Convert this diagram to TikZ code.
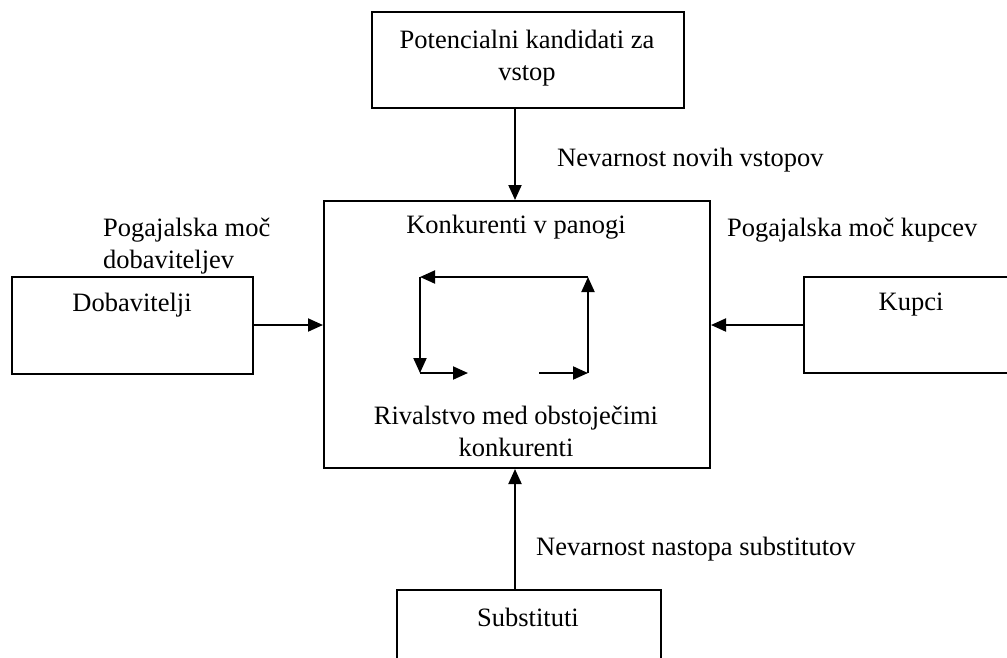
\documentclass[tikz,border=0pt]{standalone}
\usepackage{fontspec}
\setmainfont{Liberation Serif}
\usetikzlibrary{arrows.meta}
\begin{document}
\begin{tikzpicture}[x=1pt,y=-1pt,
  box/.style={draw,line width=2pt,minimum width=#1,inner sep=0pt,anchor=north west},
  txt/.style={font=\fontsize{26.5}{32}\selectfont,inner sep=0pt,align=center},
  ltxt/.style={font=\fontsize{26.5}{32}\selectfont,inner sep=0pt,align=left},
  arr/.style={line width=2pt,-{Triangle[length=15pt,width=13pt]}},
  ln/.style={line width=2pt}]
\useasboundingbox (0,0) rectangle (1007,657);
\clip (0,0) rectangle (1007,657);
% boxes
\node[box=312pt,minimum height=96pt] (top) at (371,11) {};
\node[box=386pt,minimum height=267pt] (mid) at (323,200) {};
\node[box=241pt,minimum height=97pt] (dob) at (11,276) {};
\node[box=241pt,minimum height=96pt] (kup) at (803,276) {};
\node[box=264pt,minimum height=100pt] (sub) at (396,589) {};
% texts
\node[txt] (ttop) at (527,58) {Potencialni kandidati za\\vstop};
\node[txt] (tmid1) at (516,227) {Konkurenti v panogi};
\node[txt] (tmid2) at (516,431) {Rivalstvo med obstoječimi\\konkurenti};
\node[txt] (tdob) at (132,305) {Dobavitelji};
\node[txt] (tkup) at (911,305) {Kupci};
\node[txt] (tsub) at (528,617) {Substituti};
\node[ltxt,anchor=west] (lnov) at (557,160) {Nevarnost novih vstopov};
\node[ltxt,anchor=west] (ldob) at (103,246) {Pogajalska moč\\dobaviteljev};
\node[ltxt,anchor=west] (lkup) at (727,230) {Pogajalska moč kupcev};
\node[ltxt,anchor=west] (lsub) at (536,549) {Nevarnost nastopa substitutov};
% connectors
\draw[arr] (top.south -| 515,0) -- (mid.north -| 515,0);
\draw[arr] (sub.north -| 515,0) -- (mid.south -| 515,0);
\draw[arr] (dob.east |- 0,325) -- (mid.west |- 0,325);
\draw[arr] (kup.west |- 0,325) -- (mid.east |- 0,325);
% inner cycle
\coordinate (c1) at (588,277);
\coordinate (c2) at (420,277);
\coordinate (c3) at (420,373);
\coordinate (c4) at (468,373);
\coordinate (c5) at (539,373);
\coordinate (c6) at (588,373);
\draw[arr] (c1) -- (c2);
\draw[arr] (c2) -- (c3);
\draw[arr] (c3) -- (c4);
\draw[arr] (c5) -- (c6);
\draw[arr] (c6) -- (c1);
\end{tikzpicture}
\end{document}
